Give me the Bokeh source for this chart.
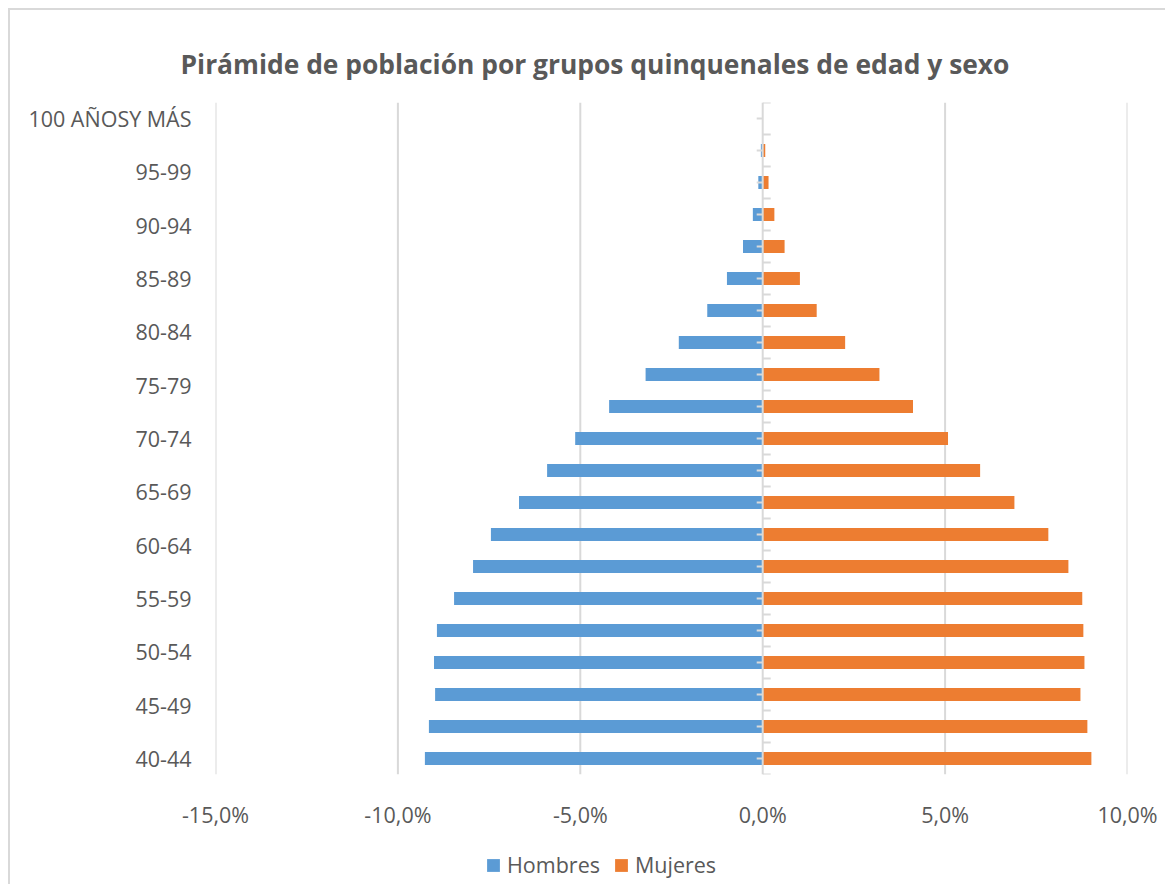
import numpy as np
from bokeh.plotting import figure
from bokeh.layouts import column
from bokeh.models import (Range1d, FixedTicker, Span, Legend, LegendItem,
                          ColumnDataSource)
from bokeh.embed import file_html
from bokeh.resources import INLINE

# ---- data (percent of population) ----
title_text = "Pirámide de población por grupos quinquenales de edad y sexo"
tick_labels = ["40-44", "45-49", "50-54", "55-59", "60-64", "65-69", "70-74",
               "75-79", "80-84", "85-89", "90-94", "95-99", "100 AÑOSY MÁS"]
hombres = [9.26, 9.15, 8.98, 9.01, 8.93, 8.46, 7.94, 7.45, 6.68, 5.91, 5.14,
           4.21, 3.21, 2.30, 1.52, 0.98, 0.54, 0.27, 0.12, 0.05, 0.0]
mujeres = [9.01, 8.90, 8.71, 8.82, 8.79, 8.76, 8.38, 7.83, 6.90, 5.96, 5.08,
           4.12, 3.20, 2.26, 1.48, 1.02, 0.60, 0.32, 0.16, 0.07, 0.0]
series_names = ["Hombres", "Mujeres"]
x_ticks = [-15, -10, -5, 0, 5, 10]

BLUE = "#5B9BD5"
ORANGE = "#ED7D31"
GRID = "#d9d9d9"
TEXT = "#595959"
FONT = "Open Sans"
FS = "21.5px"

n = len(hombres)
ypos = np.arange(n)
src = ColumnDataSource(dict(y=ypos, h_left=-np.array(hombres), h_right=np.zeros(n),
                            m_left=np.zeros(n), m_right=np.array(mujeres)))

p = figure(width=1155, height=830, output_backend="svg", toolbar_location=None,
           x_range=Range1d(x_ticks[0], x_ticks[-1]), y_range=Range1d(-0.5, n - 0.5),
           min_border_left=205, min_border_right=38, min_border_top=92,
           min_border_bottom=66)
p.outline_line_color = None

p.title.text = title_text
p.title.align = "left"
p.title.offset = -35
p.title.standoff = 42
p.title.text_font = FONT
p.title.text_font_size = "26.4px"
p.title.text_font_style = "bold"
p.title.text_color = TEXT

# vertical grid lines
for t in x_ticks:
    if t != 0:
        p.add_layout(Span(location=t, dimension="height", line_color=GRID,
                          line_width=2, level="underlay"))
p.xgrid.grid_line_color = None
p.ygrid.grid_line_color = None

r_h = p.hbar(y="y", left="h_left", right="h_right", height=0.4, source=src,
             fill_color=BLUE, line_color=None)
r_m = p.hbar(y="y", left="m_left", right="m_right", height=0.4, source=src,
             fill_color=ORANGE, line_color=None)

# central category axis line and its tick marks
p.add_layout(Span(location=0, dimension="height", line_color=GRID, line_width=2))
bounds = np.arange(n + 1) - 0.5
p.ray(x=np.zeros(n + 1), y=bounds, length=8, length_units="screen", angle=0,
      line_color=GRID, line_width=2)
p.ray(x=np.zeros(n), y=ypos, length=6, length_units="screen", angle=np.pi,
      line_color=GRID, line_width=2)

# x axis
p.xaxis.ticker = FixedTicker(ticks=x_ticks)
p.xaxis.major_label_overrides = {t: (f"{t:.1f}".replace(".", ",") + "%") for t in x_ticks}
p.xaxis.axis_line_color = None
p.xaxis.major_tick_line_color = None
p.xaxis.minor_tick_line_color = None
p.xaxis.major_label_standoff = 19
p.xaxis.major_label_text_font = FONT
p.xaxis.major_label_text_font_size = FS
p.xaxis.major_label_text_color = TEXT

# y axis (category labels)
label_pos = np.linspace(0, n - 1, len(tick_labels))
p.yaxis.ticker = FixedTicker(ticks=list(label_pos))
p.yaxis.major_label_overrides = {float(v): lab for v, lab in zip(label_pos, tick_labels)}
p.yaxis.axis_line_color = None
p.yaxis.major_tick_line_color = None
p.yaxis.minor_tick_line_color = None
p.yaxis.major_label_standoff = 18
p.yaxis.major_label_text_font = FONT
p.yaxis.major_label_text_font_size = FS
p.yaxis.major_label_text_color = TEXT

# legend strip below the chart (its own bars lie outside its visible range)
lf = figure(width=1155, height=44, output_backend="svg", toolbar_location=None,
            x_axis_type=None, y_axis_type=None,
            min_border_left=205, min_border_right=38, min_border_top=0,
            min_border_bottom=0,
            x_range=Range1d(x_ticks[0], x_ticks[-1]), y_range=Range1d(n + 50, n + 51))
lf.outline_line_color = None
lf.xgrid.grid_line_color = None
lf.ygrid.grid_line_color = None
lh = lf.hbar(y="y", left="h_left", right="h_right", height=0.4, source=src,
             fill_color=BLUE, line_color=None)
lm = lf.hbar(y="y", left="m_left", right="m_right", height=0.4, source=src,
             fill_color=ORANGE, line_color=None)
legend = Legend(items=[LegendItem(label=series_names[0], renderers=[lh]),
                       LegendItem(label=series_names[1], renderers=[lm])],
                location=(270, 5), orientation="horizontal",
                glyph_width=16, glyph_height=16, padding=0, margin=0, spacing=13,
                label_standoff=6, border_line_color=None, background_fill_alpha=0,
                label_text_font=FONT, label_text_font_size=FS,
                label_text_color=TEXT)
lf.add_layout(legend, "center")

layout = column(p, lf, spacing=0,
                styles={"margin-left": "8px", "margin-top": "8px",
                        "border-top": "2px solid #d9d9d9",
                        "border-left": "2px solid #d9d9d9"})

open("out.html", "w").write(file_html(layout, INLINE))
